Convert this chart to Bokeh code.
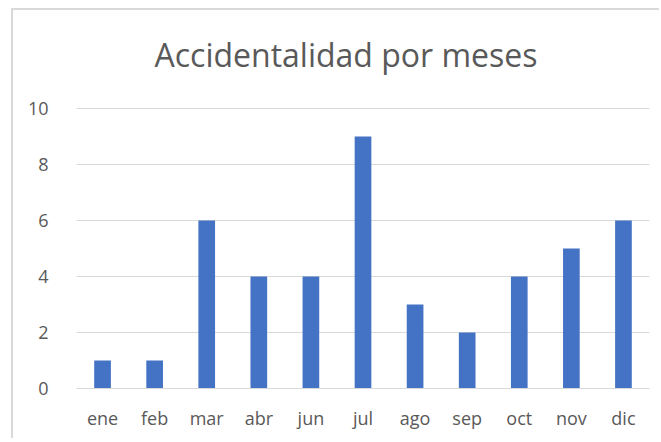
from bokeh.plotting import figure
from bokeh.models import FixedTicker, Range1d, Label
from bokeh.embed import file_html
from bokeh.resources import INLINE

months = ["ene", "feb", "mar", "abr", "jun", "jul", "ago", "sep", "oct", "nov", "dic"]
accidents = [1, 1, 6, 4, 4, 9, 3, 2, 4, 5, 6]
y_ticks = [0, 2, 4, 6, 8, 10]
title_text = "Accidentalidad por meses"

FONT = "Open Sans"
TXT = "#595959"
GRID = "#d9d9d9"

W, H = 648, 430
MB_BOTTOM = 52
PX_PER_UNIT = 28.0
y_top = (H - MB_BOTTOM) / PX_PER_UNIT  # frame extends to top so the title fits inside

p = figure(x_range=months, y_range=Range1d(0, y_top), width=W, height=H,
           output_backend="svg", toolbar_location=None,
           min_border_left=63, min_border_right=12, min_border_top=0, min_border_bottom=MB_BOTTOM)
p.margin = (8, 0, 0, 11)
p.styles = {"border-top": f"2px solid {GRID}", "border-left": f"2px solid {GRID}"}

p.vbar(x=months, top=accidents, width=0.32, color="#4472c4", line_color=None)

title = Label(x=len(months) / 2, y=11.93, text=title_text, x_offset=-17,
              text_align="center", text_baseline="alphabetic",
              text_font=FONT, text_font_size="32px", text_color=TXT)
p.add_layout(title)

p.outline_line_color = None
p.background_fill_color = "white"
p.border_fill_color = "white"

p.xgrid.grid_line_color = None
p.ygrid.grid_line_color = GRID
p.ygrid.grid_line_width = 1
p.yaxis.ticker = FixedTicker(ticks=y_ticks)
p.ygrid.ticker = FixedTicker(ticks=y_ticks)

p.yaxis.axis_line_color = None
p.yaxis.major_tick_line_color = None
p.yaxis.minor_tick_line_color = None
p.yaxis.major_label_text_font = FONT
p.yaxis.major_label_text_font_size = "18px"
p.yaxis.major_label_text_color = TXT
p.yaxis.major_label_standoff = 22

p.xaxis.axis_line_color = GRID
p.xaxis.axis_line_width = 1
p.xaxis.major_tick_line_color = None
p.xaxis.minor_tick_line_color = None
p.xaxis.major_label_text_font = FONT
p.xaxis.major_label_text_font_size = "18px"
p.xaxis.major_label_text_color = TXT
p.xaxis.major_label_standoff = 11

open("out.html", "w").write(file_html(p, INLINE))
